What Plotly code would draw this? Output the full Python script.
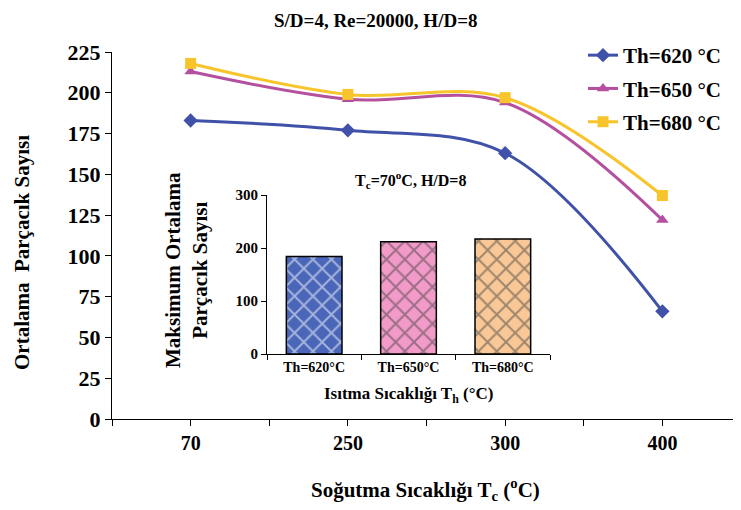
import plotly.graph_objects as go

# ---- data ----
tc_labels = ["70", "250", "300", "400"]
th620 = [183, 177, 163, 66]
th650 = [213, 196, 194, 122]
th680 = [218, 199, 197, 137]
series_names = ["Th=620 °C", "Th=650 °C", "Th=680 °C"]
line_colors = ["#3F51A8", "#B5509F", "#F7C52B"]
markers = ["diamond", "triangle-up", "square"]

bar_labels = ["Th=620°C", "Th=650°C", "Th=680°C"]
bar_values = [184, 212, 217]
bar_colors = ["#4A66B8", "#F29AC8", "#F9C896"]

FONT = "Liberation Serif, Times New Roman, serif"

# page body has an 8px default margin; compensate
OFF = 8
W, H = 741 - OFF, 510 - OFF
PX_L, PX_T, PX_B = 112, 52, 419          # plot area in reference pixels
L, T, B, R = PX_L - OFF, PX_T - OFF, 510 - PX_B, 0
PW, PH = 741 - PX_L, PX_B - PX_T


def px_x(px):
    return (px - PX_L) / PW


def px_y(py):
    return (PX_B - py) / PH


fig = go.Figure()

xpos = list(range(len(tc_labels)))
for name, vals, col, sym in zip(series_names, [th620, th650, th680], line_colors, markers):
    fig.add_trace(go.Scatter(
        x=xpos, y=vals, name=name, mode="lines+markers",
        line=dict(color=col, width=3, shape="spline", smoothing=1.0),
        marker=dict(symbol=sym, size=11, color=col),
        legendgroup=name,
        xaxis="x", yaxis="y",
    ))

fig.add_trace(go.Bar(
    x=bar_labels, y=bar_values, showlegend=False,
    marker=dict(color=bar_colors, line=dict(color="black", width=1.5),
                pattern=dict(shape="x", fgcolor="#111111", size=13, solidity=0.28)),
    width=0.59,
    xaxis="x2", yaxis="y2",
))

boundaries = [i - 0.5 for i in range(len(tc_labels) + 1)]

fig.update_layout(
    width=W, height=H,
    margin=dict(l=L, r=R, t=T, b=B, pad=0, autoexpand=False),
    paper_bgcolor="white", plot_bgcolor="rgba(0,0,0,0)",
    font=dict(family=FONT, color="black", weight="bold"),
    showlegend=True,
    legend=dict(x=(583 - OFF) / W, y=1 - (35 - OFF) / H, xref="container", yref="container",
                xanchor="left", yanchor="top",
                font=dict(size=21, family=FONT, weight="bold"),
                bgcolor="rgba(0,0,0,0)", tracegroupgap=3),
    xaxis=dict(domain=[0, 1], range=[-0.5, len(tc_labels) - 0.5], automargin=False,
               tickmode="array", tickvals=xpos, ticktext=tc_labels,
               showline=True, linecolor="black", linewidth=1,
               ticks="outside", ticklen=6, tickcolor="black",
               minor=dict(tickmode="array", tickvals=boundaries, ticks="outside",
                          ticklen=6, tickcolor="black", showgrid=False),
               showgrid=False, zeroline=False,
               tickfont=dict(size=20, family=FONT, weight="bold")),
    yaxis=dict(domain=[0, 1], range=[0, 225], dtick=25, automargin=False,
               showline=True, linecolor="black", linewidth=1,
               ticks="outside", ticklen=6, tickcolor="black",
               showgrid=False, zeroline=False,
               tickfont=dict(size=22, family=FONT, weight="bold")),
    xaxis2=dict(domain=[px_x(267), px_x(550)], anchor="y2", type="category", automargin=False,
                tickson="boundaries", showline=True, linecolor="black", linewidth=1,
                ticks="outside", ticklen=5, tickcolor="black",
                showgrid=False, zeroline=False,
                tickfont=dict(size=14, family=FONT, weight="bold")),
    yaxis2=dict(domain=[px_y(354), px_y(195)], anchor="x2", range=[0, 300], dtick=100,
                automargin=False,
                showline=True, linecolor="black", linewidth=1,
                ticks="outside", ticklen=5, tickcolor="black",
                showgrid=False, zeroline=False,
                tickfont=dict(size=15, family=FONT, weight="bold")),
)

ann = [
    dict(text="S/D=4, Re=20000, H/D=8", x=375, y=OFF, size=19, angle=0, ya="top"),
    dict(text="Soğutma Sıcaklığı T<sub>c</sub> (<sup>o</sup>C)", x=425, y=489, size=21, angle=0, ya="middle"),
    dict(text="Ortalama  Parçacık Sayısı", x=22, y=253, size=21, angle=-90, ya="middle"),
    dict(text="T<sub>c</sub>=70<sup>o</sup>C, H/D=8", x=410, y=180, size=16, angle=0, ya="middle"),
    dict(text="Maksimum Ortalama<br>Parçacık Sayısı", x=186, y=270, size=21, angle=-90, ya="middle"),
    dict(text="Isıtma Sıcaklığı T<sub>h</sub> (°C)", x=408, y=395, size=17, angle=0, ya="middle"),
]
for a in ann:
    fig.add_annotation(text=a["text"], xref="paper", yref="paper",
                       x=px_x(a["x"]), y=px_y(a["y"]), xanchor="center", yanchor=a["ya"],
                       textangle=a["angle"], showarrow=False,
                       font=dict(size=a["size"], family=FONT, weight="bold", color="black"))

fig.write_html("out.html")
